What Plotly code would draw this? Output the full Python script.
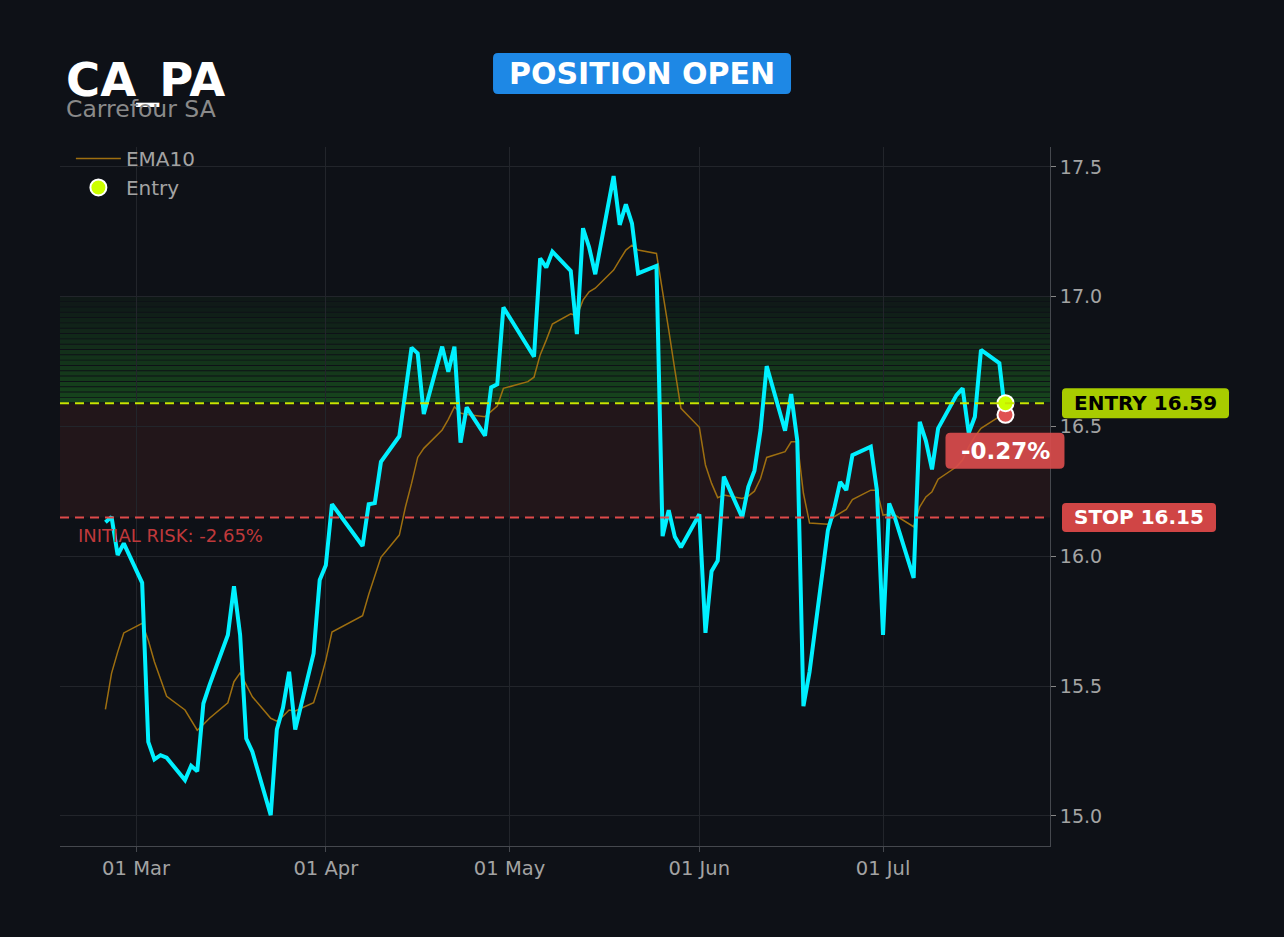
from datetime import datetime
import plotly.graph_objects as go

# daily closes and EMA10
dates = [
    "2026-02-24", "2026-02-25", "2026-02-26", "2026-02-27",
    "2026-03-02", "2026-03-03", "2026-03-04", "2026-03-05", "2026-03-06",
    "2026-03-09", "2026-03-10", "2026-03-11", "2026-03-12", "2026-03-13",
    "2026-03-16", "2026-03-17", "2026-03-18", "2026-03-19", "2026-03-20",
    "2026-03-23", "2026-03-24", "2026-03-25", "2026-03-26", "2026-03-27",
    "2026-03-30", "2026-03-31", "2026-04-01", "2026-04-02",
    "2026-04-07", "2026-04-08", "2026-04-09", "2026-04-10",
    "2026-04-13", "2026-04-14", "2026-04-15", "2026-04-16", "2026-04-17",
    "2026-04-20", "2026-04-21", "2026-04-22", "2026-04-23", "2026-04-24",
    "2026-04-27", "2026-04-28", "2026-04-29", "2026-04-30",
    "2026-05-04", "2026-05-05", "2026-05-06", "2026-05-07", "2026-05-08",
    "2026-05-11", "2026-05-12", "2026-05-13", "2026-05-14", "2026-05-15",
    "2026-05-18", "2026-05-19", "2026-05-20", "2026-05-21", "2026-05-22",
    "2026-05-25", "2026-05-26", "2026-05-27", "2026-05-28", "2026-05-29",
    "2026-06-01", "2026-06-02", "2026-06-03", "2026-06-04", "2026-06-05",
    "2026-06-08", "2026-06-09", "2026-06-10", "2026-06-11", "2026-06-12",
    "2026-06-15", "2026-06-16", "2026-06-17", "2026-06-18", "2026-06-19",
    "2026-06-22", "2026-06-23", "2026-06-24", "2026-06-25", "2026-06-26",
    "2026-06-29", "2026-06-30", "2026-07-01", "2026-07-02", "2026-07-03",
    "2026-07-06", "2026-07-07", "2026-07-08", "2026-07-09", "2026-07-10",
    "2026-07-13", "2026-07-14", "2026-07-15", "2026-07-16", "2026-07-17",
    "2026-07-20", "2026-07-21",
]

close = [
    16.131, 16.152, 16.005, 16.050,
    15.898, 15.285, 15.218, 15.234, 15.224,
    15.138, 15.193, 15.172, 15.433, 15.504,
    15.697, 15.885, 15.697, 15.298, 15.247,
    15.003, 15.333, 15.416, 15.555, 15.333,
    15.626, 15.909, 15.966, 16.201,
    16.040, 16.201, 16.205, 16.364,
    16.463, 16.642, 16.804, 16.782, 16.548,
    16.808, 16.711, 16.808, 16.438, 16.574,
    16.465, 16.651, 16.663, 16.959,
    16.808, 16.769, 17.148, 17.113, 17.174,
    17.100, 16.856, 17.264, 17.191, 17.087,
    17.465, 17.277, 17.356, 17.283, 17.090,
    17.119, 16.078, 16.178, 16.075, 16.035,
    16.162, 15.705, 15.943, 15.983, 16.307,
    16.150, 16.268, 16.330, 16.487, 16.733,
    16.484, 16.625, 16.445, 15.423, 15.555,
    16.101, 16.182, 16.287, 16.255, 16.390,
    16.422, 16.255, 15.697, 16.204, 16.144,
    15.917, 16.518, 16.445, 16.335, 16.493,
    16.621, 16.647, 16.475, 16.538, 16.795,
    16.744, 16.545,
]

ema10 = [
    15.410, 15.549, 15.631, 15.705,
    15.742, 15.677, 15.594, 15.523, 15.461,
    15.408, 15.369, 15.330, 15.352, 15.376,
    15.436, 15.517, 15.551, 15.504, 15.459,
    15.376, 15.365, 15.384, 15.408, 15.404,
    15.436, 15.512, 15.600, 15.708,
    15.771, 15.853, 15.927, 15.996,
    16.082, 16.190, 16.281, 16.381, 16.416,
    16.487, 16.528, 16.576, 16.552, 16.546,
    16.538, 16.560, 16.579, 16.647,
    16.673, 16.690, 16.776, 16.833, 16.895,
    16.934, 16.926, 16.987, 17.019, 17.033,
    17.103, 17.142, 17.180, 17.199, 17.180,
    17.167, 17.026, 16.872, 16.718, 16.570,
    16.497, 16.352, 16.281, 16.226, 16.236,
    16.223, 16.232, 16.251, 16.300, 16.381,
    16.403, 16.441, 16.441, 16.243, 16.128,
    16.124, 16.152, 16.166, 16.181, 16.219,
    16.255, 16.255, 16.159, 16.162, 16.158,
    16.114, 16.191, 16.229, 16.249, 16.297,
    16.345, 16.371, 16.422, 16.461, 16.493,
    16.538, 16.551,
]

ticker = "CA_PA"
company = "Carrefour SA"
entry_price = 16.59
stop_price = 16.15
target_price = 17.0
pnl_text = "-0.27%"
risk_text = "INITIAL RISK: -2.65%"

x_range = ["2026-02-16 14:00", "2026-07-28 06:30"]
y_range = [14.884, 17.577]

BG = "#0e1117"
GRID = "#22252b"
AXIS = "#45484e"
TXT = "#a3a3a3"
FONT = "DejaVu Sans"


def rbox(x0, x1, y0, y1, r=4):
    # rounded rectangle path, pixel units
    return (f"M{x0 + r},{y0} L{x1 - r},{y0} Q{x1},{y0} {x1},{y0 + r} "
            f"L{x1},{y1 - r} Q{x1},{y1} {x1 - r},{y1} L{x0 + r},{y1} "
            f"Q{x0},{y1} {x0},{y1 - r} L{x0},{y0 + r} Q{x0},{y0} {x0 + r},{y0} Z")


# where the last bar sits as a fraction of the x range (so the pnl tag
# can hang past the plot edge without being clipped)
t0 = datetime.fromisoformat(x_range[0])
t1 = datetime.fromisoformat(x_range[1])
last_frac = (datetime.fromisoformat(dates[-1]) - t0) / (t1 - t0)

fig = go.Figure()

fig.add_trace(go.Scatter(
    x=dates, y=ema10, mode="lines", name="EMA10",
    line=dict(color="#9e6f10", width=1.5),
))
fig.add_trace(go.Scatter(
    x=dates, y=close, mode="lines", name="Close", showlegend=False,
    line=dict(color="#00f0ff", width=4),
))
fig.add_trace(go.Scatter(
    x=[dates[-1]], y=[close[-1]], mode="markers", showlegend=False,
    marker=dict(color="#e05252", size=16, line=dict(color="white", width=2)),
))
fig.add_trace(go.Scatter(
    x=[dates[-1]], y=[entry_price], mode="markers", name="Entry",
    marker=dict(color="#ccff00", size=16, line=dict(color="white", width=2)),
))

shapes = []

# risk zone
shapes.append(dict(type="rect", xref="paper", x0=0, x1=1, yref="y",
                   y0=stop_price, y1=entry_price, line_width=0,
                   fillcolor="rgba(214,67,63,0.10)", layer="below"))

# reward zone, striped gradient fading upward
n_bands = 20
step = (target_price - entry_price) / n_bands
for i in range(n_bands):
    a = 0.34 - 0.29 * i / (n_bands - 1)
    shapes.append(dict(type="rect", xref="paper", x0=0, x1=1, yref="y",
                       y0=entry_price + i * step + step * 0.18,
                       y1=entry_price + (i + 1) * step,
                       line_width=0, fillcolor=f"rgba(40,170,40,{a:.3f})",
                       layer="below"))

shapes.append(dict(type="line", xref="paper", x0=0, x1=1, yref="y",
                   y0=entry_price, y1=entry_price,
                   line=dict(color="#c8e600", width=2, dash="9px,6px")))
shapes.append(dict(type="line", xref="paper", x0=0, x1=1, yref="y",
                   y0=stop_price, y1=stop_price,
                   line=dict(color="#e04a4a", width=2, dash="9px,6px")))

# right-side price tags
shapes.append(dict(type="path", xref="paper", xsizemode="pixel", xanchor=1,
                   yref="y", ysizemode="pixel", yanchor=entry_price,
                   path=rbox(12, 179, -15, 15), fillcolor="#a8cc00",
                   line_width=0, layer="above"))
shapes.append(dict(type="path", xref="paper", xsizemode="pixel", xanchor=1,
                   yref="y", ysizemode="pixel", yanchor=stop_price,
                   path=rbox(12, 166, -14.5, 14.5), fillcolor="#d04545",
                   line_width=0, layer="above"))
# pnl tag under the last price
shapes.append(dict(type="path", xref="paper", xsizemode="pixel", xanchor=last_frac,
                   yref="y", ysizemode="pixel", yanchor=close[-1],
                   path=rbox(-60, 59, -54, -18, 5),
                   fillcolor="rgba(217,76,76,0.92)", line_width=0, layer="above"))
# status badge
shapes.append(dict(type="path", xref="paper", xsizemode="pixel", xanchor=0.5879,
                   yref="paper", ysizemode="pixel", yanchor=1.1052,
                   path=rbox(-149, 149, -20.5, 20.5, 5), fillcolor="#1e88e5",
                   line_width=0, layer="above"))

annotations = [
    dict(text=f"<b>{ticker}</b>", xref="paper", yref="paper", x=0.0045, y=1.0959,
         xanchor="left", yanchor="middle", showarrow=False,
         font=dict(family=FONT, size=46.5, color="white")),
    dict(text=company, xref="paper", yref="paper", x=0.0045, y=1.0544,
         xanchor="left", yanchor="middle", showarrow=False,
         font=dict(family=FONT, size=23.5, color="#8a8a8a")),
    dict(text="<b>POSITION OPEN</b>", xref="paper", yref="paper", x=0.5879, y=1.1052,
         xanchor="center", yanchor="middle", showarrow=False,
         font=dict(family=FONT, size=30, color="white")),
    dict(text=f"<b>ENTRY {entry_price:.2f}</b>", xref="paper", yref="y", x=1,
         y=entry_price, xshift=95.5, xanchor="center", yanchor="middle",
         showarrow=False, font=dict(family=FONT, size=20, color="black")),
    dict(text=f"<b>STOP {stop_price:.2f}</b>", xref="paper", yref="y", x=1,
         y=stop_price, xshift=89, xanchor="center", yanchor="middle",
         showarrow=False, font=dict(family=FONT, size=20, color="white")),
    dict(text=f"<b>{pnl_text}</b>", xref="x", yref="y", x=dates[-1], y=close[-1],
         yshift=-36, xanchor="center", yanchor="middle", showarrow=False,
         font=dict(family=FONT, size=23, color="white")),
    dict(text=risk_text, xref="paper", yref="y", x=0.0162, y=stop_price,
         yshift=-18, xanchor="left", yanchor="middle", showarrow=False,
         font=dict(family=FONT, size=18, color="#c0393b")),
]

fig.update_layout(
    width=1284, height=937,
    margin=dict(l=60, r=234, t=147, b=91),
    paper_bgcolor=BG, plot_bgcolor=BG,
    font=dict(family=FONT, color=TXT),
    shapes=shapes, annotations=annotations,
    showlegend=True,
    legend=dict(x=0.011, y=1.0115, xanchor="left", yanchor="top",
                itemwidth=45, bgcolor="rgba(0,0,0,0)",
                font=dict(size=20, color=TXT)),
    xaxis=dict(type="date", range=x_range,
               tick0="2026-03-01", dtick="M1", tickformat="%d %b",
               showgrid=True, gridcolor=GRID, zeroline=False,
               showline=True, linecolor=AXIS, ticks="outside", ticklen=5,
               tickcolor=AXIS, tickfont=dict(size=19.5, color=TXT)),
    yaxis=dict(range=y_range, side="right", dtick=0.5, tick0=15,
               tickformat=".1f", showgrid=True, gridcolor=GRID, zeroline=False,
               showline=True, linecolor=AXIS, ticks="outside", ticklen=5,
               tickcolor="#888", tickfont=dict(size=19, color=TXT)),
)

fig.write_html(
    "out.html",
    config={"displayModeBar": False},
    post_script="document.body.style.margin='0';"
                "document.body.style.background='#0e1117';",
)
